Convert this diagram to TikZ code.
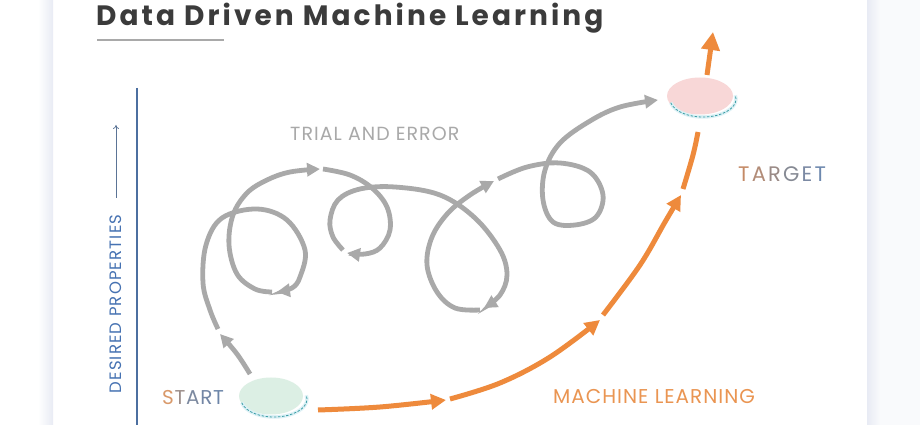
\documentclass[tikz,border=0pt]{standalone}
\usepackage{fontspec}
\setmainfont{Poppins}
\newfontfamily\titlefont{Poppins}[LetterSpace=11]
\newfontfamily\desfont{Poppins}[LetterSpace=7]
\newfontfamily\trialfont{Poppins}[LetterSpace=5.5]
\newfontfamily\mlfont{Poppins}[LetterSpace=5]
\usetikzlibrary{arrows.meta,shapes.geometric}
\definecolor{lgray}{HTML}{A9A9A9}
\definecolor{morange}{HTML}{EE8A3C}
\definecolor{lorange}{HTML}{EA9552}
\definecolor{axisblue}{HTML}{4C6FA0}
\definecolor{textblue}{HTML}{4672B2}
\definecolor{titlegray}{HTML}{3B3B3B}
\definecolor{startgreen}{HTML}{DCEFE4}
\definecolor{targetpink}{HTML}{F8D7D7}
\definecolor{dashteal}{HTML}{3A9EA5}
\definecolor{halo}{HTML}{DDF1F6}
\definecolor{shadowblue}{HTML}{E8EBF4}
\definecolor{paleblue}{HTML}{F9FAFC}
\newcommand{\tk}{\kern2.2pt}
\newcommand{\sk}{\kern0.7pt}
\begin{document}
\begin{tikzpicture}[x=1pt,y=1pt,
  grayline/.style={draw=lgray, line width=4.8pt, line cap=butt,
     -{Triangle[length=13pt,width=13pt]}},
  orangeline/.style={draw=morange, line width=5pt,
     -{Triangle[length=15pt,width=15pt]}},
  orangeplain/.style={draw=morange, line width=5pt},
  dashline/.style={draw=dashteal, line width=0.8pt, dash pattern=on 2.5pt off 1.6pt},
  haloline/.style={draw=halo, line width=3.5pt},
  blob/.style={ellipse, inner sep=0pt, draw=none},
  lab/.style={inner sep=0pt, anchor=base west}]
\useasboundingbox (0,0) rectangle (920,425);
% background card
\fill[white] (0,0) rectangle (920,425);
\shade[left color=white, right color=shadowblue] (38,0) rectangle (53,425);
\shade[left color=shadowblue, right color=paleblue] (867,0) rectangle (880,425);
\fill[paleblue] (880,0) rectangle (920,425);

% title
\node[lab, text=titlegray] (title) at (96,399)
  {\titlefont\bfseries\fontsize{28}{32}\selectfont Data Driven Machine Learning};
\coordinate (ulA) at (97,385);
\coordinate (ulB) at (224,385);
\draw[draw=lgray, line width=1.5pt] (ulA) -- (ulB);

% axis
\coordinate (axTop) at (137,337);
\coordinate (axBot) at (137,0);
\draw[draw=axisblue, line width=1.8pt] (axTop) -- (axBot);
\node[rotate=90, text=textblue, inner sep=0pt] (desired) at (116,121)
  {\desfont\fontsize{16.5}{18}\selectfont DESIRED PROPERTIES};
\coordinate (arrA) at (116,227);
\coordinate (arrB) at (116,300);
\draw[draw=axisblue!70!gray, line width=0.7pt, -{To[length=4pt,width=6pt]}] (arrA) -- (arrB);

% blobs
\node[blob, fill=startgreen, minimum width=64pt, minimum height=37pt] (start) at (271,29) {};
\node[blob, fill=targetpink, minimum width=66pt, minimum height=37pt] (target) at (700,329) {};
\draw[haloline] (274,26) ++(192:33 and 18) arc[start angle=192, end angle=372, x radius=33, y radius=18];
\draw[dashline] (274,26) ++(192:33 and 18) arc[start angle=192, end angle=372, x radius=33, y radius=18];
\draw[haloline] (703,326) ++(192:33 and 18) arc[start angle=192, end angle=372, x radius=33, y radius=18];
\draw[dashline] (703,326) ++(192:33 and 18) arc[start angle=192, end angle=372, x radius=33, y radius=18];

% labels
\node[lab, text=lgray] (trial) at (290,284)
  {\trialfont\fontsize{19}{21}\selectfont TRIAL AND ERROR};
\node[lab] (startlab) at (162,20)
  {\fontsize{20}{22}\selectfont\textcolor[HTML]{D9996A}{S}\sk\textcolor[HTML]{9C8E8A}{T}\sk\textcolor[HTML]{7D8AA0}{A}\sk\textcolor[HTML]{7386A5}{R}\sk\textcolor[HTML]{6C85A8}{T}};
\node[lab] (targetlab) at (738,243)
  {\fontsize{21}{23}\selectfont\textcolor[HTML]{C48A66}{T}\tk\textcolor[HTML]{B28C78}{A}\tk\textcolor[HTML]{9A8A86}{R}\tk\textcolor[HTML]{868A94}{G}\tk\textcolor[HTML]{7C8AA4}{E}\tk\textcolor[HTML]{6D88AE}{T}};
\node[lab, text=lorange] (mllab) at (553,21)
  {\mlfont\fontsize{20}{22}\selectfont MACHINE LEARNING};

% trial and error path (gray)
\draw[grayline] plot[smooth, tension=0.6] coordinates {(250,51) (237,71) (220,91)};
\draw[grayline] plot[smooth, tension=0.6] coordinates {(218,96) (210,115) (203,142) (206,180) (222,207) (257,216) (287,205) (305,175) (300,148) (292,137) (277,133)};
\draw[grayline] plot[smooth, tension=0.6] coordinates {(272,133) (255,136) (237,151) (229,180) (233,210) (247,232) (267,245) (290,253) (320,256)};
\draw[grayline] plot[smooth, tension=0.6] coordinates {(323,256) (350,250) (372,237) (387,218) (390,195) (380,177) (365,171) (347,172)};
\draw[grayline] plot[smooth, tension=0.6] coordinates {(343,175) (333,188) (330,205) (338,225) (360,236) (395,238) (440,230) (475,207) (500,175) (507,150) (500,130) (484,117)};
\draw[grayline] plot[smooth, tension=0.6] coordinates {(480,115) (455,117) (437,133) (427,160) (432,188) (448,212) (470,230) (494,244)};
\draw[grayline] plot[smooth, tension=0.6] coordinates {(498,246) (527,258) (560,262) (590,253) (603,230) (596,208) (575,200) (553,203) (543,225) (545,255) (560,282) (590,304) (620,318) (658,325)};

% machine learning path (orange)
\draw[orangeline] plot[smooth, tension=0.6] coordinates {(318,15) (380,18) (446,25)};
\draw[orangeline] plot[smooth, tension=0.6] coordinates {(450,26) (500,42) (550,68) (600,105)};
\draw[orangeline] plot[smooth, tension=0.6] coordinates {(603,110) (640,160) (665,203) (681,230)};
\draw[orangeplain] plot[smooth, tension=0.6] coordinates {(683,236) (693,270) (698,293)};
\draw[draw=morange, line width=5pt, -{Triangle[length=18pt,width=18pt]}] (707,350) -- (713,393);
\end{tikzpicture}
\end{document}
